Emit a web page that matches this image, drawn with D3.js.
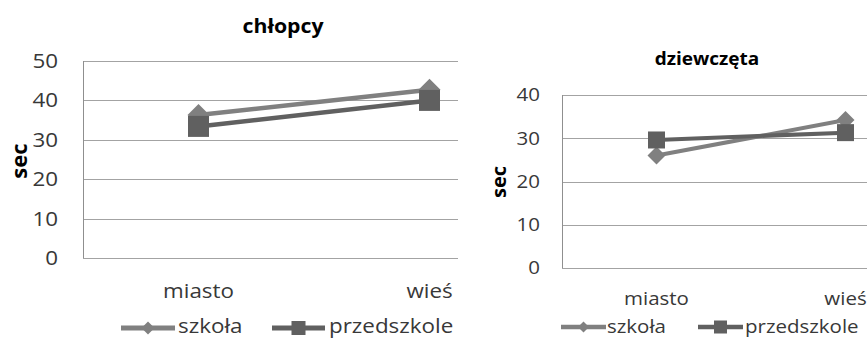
<!DOCTYPE html>
<html>
<head>
<meta charset="utf-8">
<script src="https://cdn.jsdelivr.net/npm/d3@7"></script>
<style>
  html, body { margin: 0; padding: 0; background: #fff; }
  svg { display: block; font-family: "Open Sans", sans-serif; }
</style>
</head>
<body>
<svg id="chart" width="867" height="338"></svg>
<script>
// ---- data ----
const categories = ["miasto", "wieś"];
const seriesNames = ["szkoła", "przedszkole"];
const boysSzkola = [36.3, 42.7];
const boysPrzedszkole = [33.4, 40.0];
const girlsSzkola = [26.0, 34.2];
const girlsPrzedszkole = [29.6, 31.3];
const boysTicks = [0, 10, 20, 30, 40, 50];
const girlsTicks = [0, 10, 20, 30, 40];
const boysTitle = "chłopcy";
const girlsTitle = "dziewczęta";
const yLabel = "sec";

// ---- styles ----
const colSzkola = "#808080";
const colPrzed = "#606060";
const gridCol = "#a3a3a3";
const textCol = "#383838";
const SX = 1.12; // horizontal stretch of text to mimic original font

const svg = d3.select("#chart");

function stretchedText(g, x, y, str, opts) {
  return g.append("text")
    .attr("transform", `translate(${x},${y}) scale(${SX},1)`)
    .attr("text-anchor", opts.anchor || "start")
    .attr("font-size", opts.size)
    .attr("font-weight", opts.weight || "normal")
    .attr("fill", opts.fill || textCol)
    .text(str);
}

function diamond(s) { // s = full diagonal
  const h = s / 2;
  return `M0,${-h}L${h},0L0,${h}L${-h},0Z`;
}

function drawChart(cfg) {
  const g = svg.append("g");
  const x = d3.scaleBand().domain(categories).range([cfg.x0, cfg.x1]);
  const y = d3.scaleLinear().domain([0, d3.max(cfg.ticks)]).range([cfg.yb, cfg.yt]);

  const clipId = "clip" + cfg.id;
  svg.append("clipPath").attr("id", clipId)
    .append("rect").attr("x", cfg.x0 - 15).attr("y", 0)
    .attr("width", cfg.clipRight - cfg.x0 + 15).attr("height", 338);

  const plot = g.append("g").attr("clip-path", `url(#${clipId})`);

  // gridlines
  const grid = plot.append("g").attr("transform", `translate(${cfg.x0},0)`)
    .call(d3.axisLeft(y).tickValues(cfg.ticks).tickSize(-(cfg.clipRight - cfg.x0)).tickFormat(""));
  grid.select(".domain").remove();
  grid.selectAll("line").attr("stroke", gridCol).attr("stroke-width", 1)
    .attr("shape-rendering", "crispEdges");

  // vertical axis line
  plot.append("line")
    .attr("x1", cfg.x0).attr("x2", cfg.x0)
    .attr("y1", y(d3.max(cfg.ticks))).attr("y2", y(0))
    .attr("stroke", "#8f8f8f").attr("shape-rendering", "crispEdges");

  // y tick labels
  const yax = g.append("g").attr("transform", `translate(${cfg.x0},0)`)
    .call(d3.axisLeft(y).tickValues(cfg.ticks).tickSize(0).tickPadding(cfg.tickPad / SX));
  yax.select(".domain").remove();
  yax.selectAll("text")
    .attr("font-size", cfg.fs).attr("font-family", "Open Sans")
    .attr("fill", textCol).attr("transform", `scale(${SX},1)`);

  // category labels
  const xax = g.append("g").attr("transform", `translate(0,${cfg.yb})`)
    .call(d3.axisBottom(x).tickSize(0).tickPadding(cfg.catPad));
  xax.select(".domain").remove();
  xax.selectAll("text")
    .attr("font-size", cfg.fs).attr("font-family", "Open Sans")
    .attr("fill", textCol).attr("transform", `scale(${SX},1)`);

  const cx = c => x(c) + x.bandwidth() / 2;
  const line = d3.line().x(d => cx(d.c)).y(d => y(d.v));

  const series = [
    { name: seriesNames[0], vals: cfg.s1, col: colSzkola, shape: "diamond" },
    { name: seriesNames[1], vals: cfg.s2, col: colPrzed, shape: "square" }
  ];

  series.forEach(s => {
    const pts = categories.map((c, i) => ({ c, v: s.vals[i] }));
    plot.append("path").datum(pts)
      .attr("d", line).attr("fill", "none")
      .attr("stroke", s.col).attr("stroke-width", cfg.lw);
    if (s.shape === "diamond") {
      plot.selectAll(null).data(pts).enter().append("path")
        .attr("d", diamond(cfg.dSize))
        .attr("transform", d => `translate(${cx(d.c)},${y(d.v)})`)
        .attr("fill", s.col);
    } else {
      plot.selectAll(null).data(pts).enter().append("rect")
        .attr("x", d => cx(d.c) - cfg.sqSize / 2)
        .attr("y", d => y(d.v) - cfg.sqSize / 2)
        .attr("width", cfg.sqSize).attr("height", cfg.sqSize)
        .attr("fill", s.col);
    }
  });

  // title
  stretchedText(g, cfg.titleX, cfg.titleY, cfg.title,
    { anchor: "middle", size: cfg.titleFs, weight: "bold", fill: "#000" });

  // y axis label
  g.append("text")
    .attr("transform", `translate(${cfg.secX},${cfg.secY}) rotate(-90)`)
    .attr("text-anchor", "middle")
    .attr("dominant-baseline", "central")
    .attr("font-size", cfg.secFs).attr("font-weight", "bold").attr("fill", "#000")
    .text(yLabel);

  // legend
  const lg = g.append("g");
  cfg.legend.forEach((L, i) => {
    const s = series[i];
    lg.append("line")
      .attr("x1", L.l0).attr("x2", L.l1).attr("y1", cfg.legY).attr("y2", cfg.legY)
      .attr("stroke", s.col).attr("stroke-width", cfg.legLw);
    const mx = (L.l0 + L.l1) / 2;
    if (s.shape === "diamond") {
      lg.append("path").attr("d", diamond(cfg.legD))
        .attr("transform", `translate(${mx},${cfg.legY})`).attr("fill", s.col);
    } else {
      lg.append("rect")
        .attr("x", mx - cfg.legSq / 2).attr("y", cfg.legY - cfg.legSq / 2)
        .attr("width", cfg.legSq).attr("height", cfg.legSq).attr("fill", s.col);
    }
    stretchedText(lg, L.tx, cfg.legTextY, s.name, { size: cfg.legFs });
  });
}

// left: boys
drawChart({
  id: "B", x0: 83, x1: 545, clipRight: 458, yb: 258, yt: 61,
  ticks: boysTicks, s1: boysSzkola, s2: boysPrzedszkole,
  fs: 20, tickPad: 25, catPad: 26, lw: 4.5, dSize: 22, sqSize: 21,
  title: boysTitle, titleX: 283, titleY: 33, titleFs: 19,
  secX: 18, secY: 161, secFs: 22,
  legY: 328, legTextY: 333, legFs: 20, legLw: 5, legD: 13, legSq: 14,
  legend: [{ l0: 121, l1: 175, tx: 178 }, { l0: 272, l1: 325, tx: 329 }]
});

// right: girls
drawChart({
  id: "G", x0: 562, x1: 940, clipRight: 867, yb: 268, yt: 95,
  ticks: girlsTicks, s1: girlsSzkola, s2: girlsPrzedszkole,
  fs: 18.3, tickPad: 22, catPad: 24, lw: 4, dSize: 18, sqSize: 17,
  title: girlsTitle, titleX: 707, titleY: 65, titleFs: 17,
  secX: 498, secY: 182, secFs: 20,
  legY: 327, legTextY: 333, legFs: 18.3, legLw: 4.5, legD: 11, legSq: 13,
  legend: [{ l0: 561, l1: 606, tx: 607 }, { l0: 698, l1: 743, tx: 745 }]
});
</script>
</body>
</html>
